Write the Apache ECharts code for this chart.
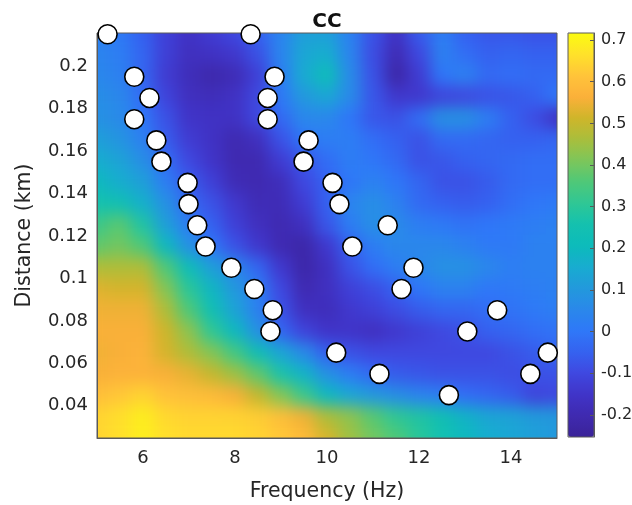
<!DOCTYPE html>
<html>
<head>
<meta charset="utf-8">
<title>CC</title>
<script src="https://cdn.jsdelivr.net/npm/echarts@6/dist/echarts.min.js"></script>
<style>
html, body { margin: 0; padding: 0; background: #fff; }
#page { position: relative; width: 632px; height: 505px; overflow: hidden; }
/* heatmap sits in its own clipped layer, blurred so the cells read as shaded */
#heatClip { position: absolute; left: 97px; top: 33px; width: 460px; height: 405px; overflow: hidden; }
#heatBase, #heat { position: absolute; left: -12px; top: -11px; width: 484px; height: 427px; }
#heat { filter: blur(8px); }
#main { position: absolute; left: 0; top: 0; width: 632px; height: 505px; }
</style>
</head>
<body>
<div id="page">
	<div id="heatClip"><div id="heatBase"></div><div id="heat"></div></div>
	<div id="main"></div>
</div>
<script>
var freqs = [5, 5.5, 6, 6.5, 7, 7.5, 8, 8.5, 9, 9.5, 10, 10.5, 11, 11.5, 12, 12.5, 13, 13.5, 14, 14.5, 15];
//top row first
var dists = [0.215, 0.205, 0.195, 0.185, 0.175, 0.165, 0.155, 0.145, 0.135, 0.125, 0.115, 0.105, 0.095, 0.085, 0.075, 0.065, 0.055, 0.045, 0.035, 0.025];
var ccRows = [
	[.03, .01, -.05, -.12, -.16, -.13, -.10, -.05, .04, .12, .12, .03, -.08, -.16, -.06, .02, -.05, -.07, -.07, -.08, -.08],
	[.04, .02, -.04, -.12, -.17, -.16, -.14, -.08, .04, .14, .16, .04, -.09, -.19, -.10, .03, -.02, -.05, -.04, -.05, -.05],
	[.05, .03, -.04, -.13, -.18, -.21, -.19, -.12, .02, .15, .22, .06, -.08, -.22, -.13, -.00, .03, -.03, -.02, -.03, -.03],
	[.07, .05, -.02, -.11, -.17, -.18, -.16, -.10, .01, .10, .14, .06, -.07, -.14, -.14, -.11, -.10, -.08, -.07, -.05, .00],
	[.08, .06, .00, -.08, -.15, -.16, -.16, -.10, -.03, .05, .05, .00, -.07, -.08, -.02, .08, .08, .02, -.05, -.09, -.16],
	[.12, .09, .03, -.06, -.13, -.16, -.20, -.17, -.08, .00, .02, .02, -.02, -.05, -.08, -.03, -.03, -.04, -.05, -.05, -.04],
	[.16, .13, .07, -.02, -.10, -.15, -.20, -.20, -.13, -.07, -.02, .02, .00, -.03, -.08, -.07, -.05, -.04, -.03, -.02, -.02],
	[.20, .16, .12, .02, -.06, -.12, -.19, -.20, -.18, -.10, -.05, .00, .03, .00, -.04, -.08, -.08, -.06, -.03, -.02, -.02],
	[.26, .24, .17, .08, -.03, -.08, -.14, -.19, -.19, -.13, -.05, .04, .07, .03, -.03, -.05, -.06, -.05, -.02, .00, .01],
	[.33, .37, .28, .12, .02, -.05, -.12, -.17, -.20, -.17, -.07, .02, .07, .06, .02, .01, -.01, .00, .01, .02, .03],
	[.38, .40, .36, .20, .08, .00, -.08, -.14, -.20, -.22, -.14, -.05, .02, .05, .05, .05, .03, .01, .01, .03, .03],
	[.47, .47, .47, .36, .22, .12, .05, -.04, -.14, -.22, -.17, -.08, -.02, .02, .05, .08, .08, .05, .02, .03, .03],
	[.53, .52, .52, .42, .30, .19, .10, .02, -.10, -.20, -.17, -.12, -.09, -.05, .00, .03, .03, .00, .01, .02, .03],
	[.55, .55, .55, .47, .36, .24, .13, .03, -.08, -.17, -.18, -.14, -.12, -.09, -.06, -.04, -.04, -.02, -.01, .01, .02],
	[.56, .56, .56, .51, .43, .31, .20, .08, -.04, -.11, -.15, -.15, -.17, -.14, -.12, -.10, -.08, -.05, -.04, -.02, -.01],
	[.55, .56, .57, .52, .47, .42, .34, .23, .14, .06, -.05, -.08, -.10, -.10, -.10, -.10, -.10, -.10, -.08, -.06, -.04],
	[.56, .57, .57, .56, .54, .50, .45, .38, .27, .18, .08, .02, -.03, -.06, -.07, -.08, -.08, -.08, -.09, -.08, -.08],
	[.60, .62, .64, .61, .60, .59, .56, .50, .42, .33, .20, .14, .10, .07, .04, .02, -.02, -.04, -.06, -.11, -.10],
	[.64, .66, .69, .65, .64, .64, .64, .63, .60, .55, .47, .43, .37, .31, .28, .24, .18, .14, .13, .11, .10],
	[.64, .66, .69, .66, .65, .65, .65, .64, .62, .59, .52, .45, .40, .36, .30, .25, .20, .16, .14, .12, .10]
];
//白圈 picked points
var ringFreq = [5.23, 8.34, 5.81, 6.14, 5.81, 6.29, 6.40, 6.97, 6.99, 7.18, 7.36, 7.92, 8.42, 8.82, 8.77, 8.86, 8.71, 8.71, 9.60, 9.49, 10.12, 10.27, 11.32, 10.55, 11.88, 11.62, 13.70, 13.05, 10.20, 11.14, 12.65, 14.80, 14.42];
var ringDist = [.215, .215, .195, .185, .175, .165, .155, .145, .135, .125, .115, .105, .095, .085, .075, .195, .185, .175, .165, .155, .145, .135, .125, .115, .105, .095, .085, .075, .065, .055, .045, .065, .055];
var xTicks = [6, 8, 10, 12, 14];
var yTicks = [0.04, 0.06, 0.08, 0.1, 0.12, 0.14, 0.16, 0.18, 0.2];
var barTicks = [-0.2, -0.1, 0, 0.1, 0.2, 0.3, 0.4, 0.5, 0.6, 0.7];
var cMin = -0.253;
var cMax = 0.717;
var palette = ['#3a2298', '#3f2ab0', '#4034c8', '#3f48e0', '#3562f0', '#2f78f8', '#2a88ea', '#2299dc', '#18acd0', '#0cbbbb',
	'#14c1af', '#2fc795', '#4fc878', '#7dc65a', '#a9be3c', '#cfb52a', '#fcb03a', '#ffc43a', '#ffe22a', '#fbfb10'];

var FONT = 'DejaVu Sans';
var INK = '#262626';
var EDGE = '#5a5a5a';

var heatData = [];
ccRows.forEach(function (row, j) {
	row.forEach(function (v, i) {
		heatData.push([i, dists.length - 1 - j, v]);
	});
});
var ringData = ringFreq.map(function (f, i) {
	return [f, ringDist[i]];
});

//same heatmap twice: sharp one underneath only fills the blur's soft edge
['heatBase', 'heat'].forEach(function (id) {
	var h = echarts.init(document.getElementById(id), null, { renderer: 'canvas' });
	h.setOption({
		animation: false,
		grid: { left: 0, right: 0, top: 0, bottom: 0, outerBoundsMode: 'none' },
		xAxis: { type: 'category', show: false, data: freqs },
		yAxis: { type: 'category', show: false, data: dists.slice().reverse() },
		visualMap: { show: false, dimension: 2, min: cMin, max: cMax, inRange: { color: palette } },
		series: [{ type: 'heatmap', data: heatData, progressive: 0, itemStyle: { borderWidth: 0 } }]
	});
});

var chart = echarts.init(document.getElementById('main'), null, { renderer: 'canvas' });
chart.setOption({
	animation: false,
	textStyle: { fontFamily: FONT },
	title: {
		text: 'CC', left: 322, top: 7, textAlign: 'center',
		textStyle: { fontFamily: FONT, fontSize: 20, fontWeight: 'bold', color: '#111' }
	},
	grid: [
		{ left: 97, top: 33, width: 460, height: 405, outerBoundsMode: 'none', show: true, borderColor: EDGE, borderWidth: 1, backgroundColor: 'transparent' },
		{ left: 568, top: 33, width: 26, height: 404, outerBoundsMode: 'none', show: true, borderColor: EDGE, borderWidth: 1, backgroundColor: 'transparent', z: 9 }
	],
	xAxis: [
		{
			type: 'value', gridIndex: 0, min: 5, max: 15,
			name: 'Frequency (Hz)', nameLocation: 'middle', nameGap: 43,
			nameTextStyle: { fontFamily: FONT, fontSize: 20.5, color: INK },
			axisLine: { show: true, onZero: false, lineStyle: { color: EDGE } },
			axisTick: { show: false },
			splitLine: { show: false },
			axisLabel: { customValues: xTicks, fontFamily: FONT, fontSize: 18, color: INK, margin: 11, hideOverlap: false }
		},
		{ type: 'value', gridIndex: 1, min: 0, max: 1, show: false }
	],
	yAxis: [
		{
			type: 'value', gridIndex: 0, min: 0.0248, max: 0.2156,
			name: 'Distance (km)', nameLocation: 'middle', nameGap: 62,
			nameTextStyle: { fontFamily: FONT, fontSize: 20.5, color: INK },
			axisLine: { show: true, onZero: false, lineStyle: { color: EDGE } },
			axisTick: { show: false },
			splitLine: { show: false },
			axisLabel: { customValues: yTicks, fontFamily: FONT, fontSize: 18, color: INK, margin: 9 }
		},
		{
			type: 'value', gridIndex: 1, min: cMin, max: cMax, position: 'right', z: 10,
			axisLine: { show: true, onZero: false, lineStyle: { color: EDGE } },
			axisTick: { show: true, customValues: barTicks, inside: true, length: 4, lineStyle: { color: EDGE } },
			splitLine: { show: false },
			axisLabel: { customValues: barTicks, fontFamily: FONT, fontSize: 16, color: INK, margin: 7 }
		}
	],
	visualMap: {
		show: true, type: 'continuous', seriesIndex: 1,
		min: cMin, max: cMax, inRange: { color: palette },
		left: 568, top: 33, itemWidth: 26, itemHeight: 404, padding: 0,
		calculable: false, realtime: false, hoverLink: false, text: null, showLabel: false
	},
	series: [
		{
			type: 'scatter', xAxisIndex: 0, yAxisIndex: 0, data: ringData, clip: false, z: 5,
			symbol: 'circle', symbolSize: 19,
			itemStyle: { color: '#fff', borderColor: '#000', borderWidth: 1.6, opacity: 1 }
		},
		{ type: 'line', xAxisIndex: 1, yAxisIndex: 1, data: [] }
	]
});
</script>
</body>
</html>
